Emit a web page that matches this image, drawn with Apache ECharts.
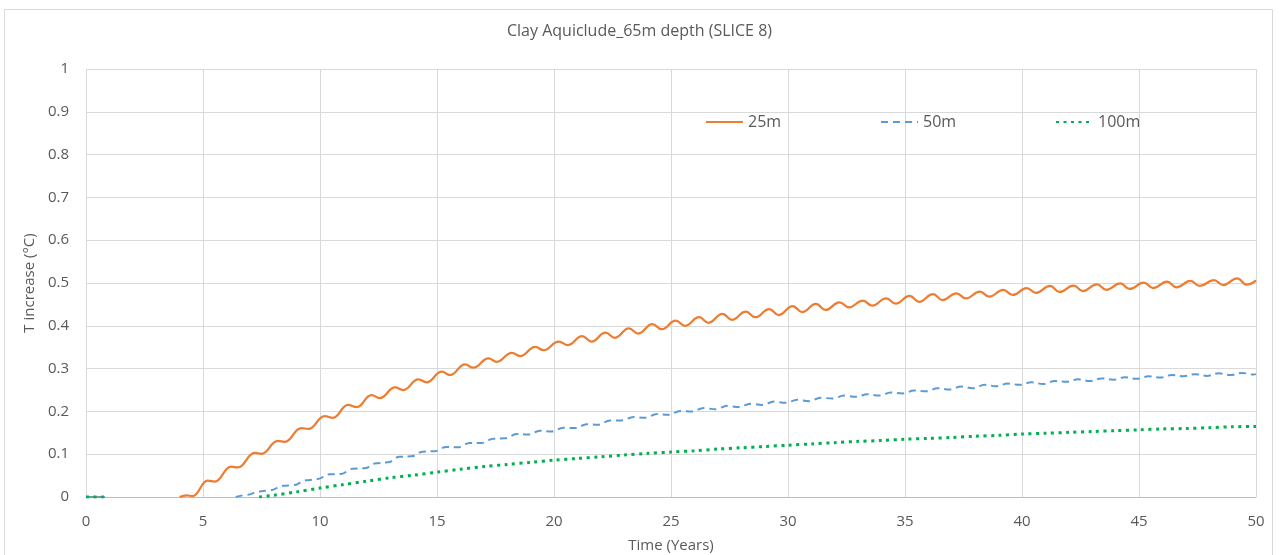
<!DOCTYPE html>
<html>
<head>
<meta charset="utf-8">
<title>Clay Aquiclude_65m depth (SLICE 8)</title>
<script src="https://cdn.jsdelivr.net/npm/echarts@6.0.0/dist/echarts.min.js"></script>
<style>
  html, body { margin: 0; padding: 0; background: #ffffff; }
  #chart { width: 1279px; height: 555px; }
</style>
</head>
<body>
<div id="chart"></div>
<script>
// Temperature increase (°C) against time (years) at three distances.
const chartTitle = 'Clay Aquiclude_65m depth (SLICE 8)';
const xAxisName = 'Time (Years)';
const yAxisName = 'T increase (\u00B0C)';
const seriesNames = ['25m', '50m', '100m'];

// 25m: annual peaks and troughs of the seasonal ripple
const dist25m = [
  [0, 0], [0.8, 0], [2, null],
  [4.0, 0], [4.3, 0.004], [4.55, 0.002], [5.2, 0.038], [5.5, 0.036],
  [6.2, 0.071], [6.5, 0.069], [7.2, 0.103], [7.5, 0.101], [8.2, 0.131], [8.5, 0.129],
  [9.2, 0.161], [9.5, 0.159], [10.2, 0.189], [10.55, 0.185], [11.2, 0.215], [11.57, 0.210],
  [12.2, 0.238], [12.56, 0.231], [13.2, 0.256], [13.56, 0.250], [14.2, 0.275], [14.56, 0.268],
  [15.2, 0.293], [15.56, 0.285], [16.2, 0.310], [16.55, 0.302], [17.2, 0.324], [17.55, 0.316],
  [18.2, 0.337], [18.55, 0.329], [19.2, 0.351], [19.55, 0.343], [20.2, 0.363], [20.6, 0.355],
  [21.2, 0.376], [21.6, 0.363], [22.2, 0.384], [22.6, 0.372], [23.2, 0.394], [23.6, 0.382],
  [24.2, 0.404], [24.6, 0.392], [25.2, 0.412], [25.6, 0.400], [26.2, 0.420], [26.6, 0.407],
  [27.2, 0.428], [27.6, 0.414], [28.2, 0.433], [28.6, 0.420], [29.2, 0.439], [29.6, 0.425],
  [30.2, 0.446], [30.6, 0.432], [31.2, 0.451], [31.6, 0.437], [32.2, 0.455], [32.6, 0.443],
  [33.2, 0.459], [33.6, 0.447], [34.2, 0.464], [34.6, 0.452], [35.2, 0.470], [35.6, 0.456],
  [36.2, 0.474], [36.6, 0.460], [37.2, 0.476], [37.6, 0.464], [38.2, 0.480], [38.6, 0.468],
  [39.2, 0.484], [39.6, 0.472], [40.2, 0.488], [40.6, 0.477], [41.2, 0.493], [41.6, 0.479],
  [42.2, 0.494], [42.6, 0.481], [43.2, 0.497], [43.6, 0.484], [44.2, 0.499], [44.6, 0.486],
  [45.2, 0.501], [45.6, 0.488], [46.2, 0.503], [46.6, 0.490], [47.2, 0.505], [47.6, 0.493],
  [48.2, 0.507], [48.6, 0.495], [49.2, 0.511], [49.6, 0.496], [50, 0.506]
];

// 50m
const dist50m = [
  [0, 0], [0.8, 0], [2, null],
  [6.4, 0], [6.9, 0.005], [7.4, 0.013], [7.9, 0.016], [8.4, 0.026], [8.9, 0.028],
  [9.4, 0.039], [9.9, 0.042], [10.4, 0.053], [10.9, 0.054], [11.4, 0.066], [11.9, 0.067],
  [12.4, 0.079], [12.9, 0.081], [13.4, 0.094], [13.9, 0.095], [14.4, 0.106], [14.9, 0.107],
  [15.4, 0.117], [15.9, 0.116], [16.4, 0.126], [16.9, 0.126], [17.4, 0.136], [17.9, 0.137],
  [18.4, 0.147], [18.9, 0.146], [19.4, 0.155], [19.9, 0.153], [20.4, 0.162], [20.9, 0.161],
  [21.4, 0.170], [21.9, 0.169], [22.4, 0.179], [22.9, 0.179], [23.4, 0.187], [23.9, 0.185],
  [24.4, 0.194], [24.9, 0.192], [25.4, 0.201], [25.9, 0.200], [26.4, 0.208], [26.9, 0.205],
  [27.4, 0.213], [27.9, 0.210], [28.4, 0.218], [28.9, 0.215], [29.4, 0.223], [29.9, 0.220],
  [30.4, 0.227], [30.9, 0.224], [31.4, 0.232], [31.9, 0.230], [32.4, 0.237], [32.9, 0.234],
  [33.4, 0.240], [33.9, 0.237], [34.4, 0.244], [34.9, 0.242], [35.4, 0.249], [35.9, 0.247],
  [36.4, 0.254], [36.9, 0.251], [37.4, 0.258], [37.9, 0.254], [38.4, 0.262], [38.9, 0.259],
  [39.4, 0.265], [39.9, 0.262], [40.4, 0.268], [40.9, 0.264], [41.4, 0.271], [41.9, 0.269],
  [42.4, 0.275], [42.9, 0.271], [43.4, 0.277], [43.9, 0.274], [44.4, 0.280], [44.9, 0.276],
  [45.4, 0.282], [45.9, 0.279], [46.4, 0.285], [46.9, 0.282], [47.4, 0.287], [47.9, 0.283],
  [48.4, 0.289], [48.9, 0.285], [49.4, 0.290], [49.9, 0.286], [50, 0.287]
];

// 100m
const dist100m = [
  [0, 0], [0.8, 0], [2, null],
  [7.4, 0], [8, 0.004], [9, 0.012], [10, 0.021], [11, 0.029], [12, 0.037], [13, 0.045],
  [14, 0.051], [15, 0.058], [16, 0.065], [17, 0.071], [18, 0.076], [19, 0.081], [20, 0.086],
  [21, 0.090], [22, 0.094], [23, 0.098], [24, 0.102], [25, 0.105], [26, 0.108], [27, 0.112],
  [28, 0.115], [29, 0.118], [30, 0.121], [31, 0.124], [32, 0.127], [33, 0.130], [34, 0.132],
  [35, 0.135], [36, 0.137], [37, 0.139], [38, 0.142], [39, 0.144], [40, 0.147], [41, 0.149],
  [42, 0.151], [43, 0.153], [44, 0.155], [45, 0.157], [46, 0.159], [47, 0.160], [48, 0.162],
  [49, 0.164], [50, 0.165]
];

const textColor = '#595959';
const gridColor = '#d9d9d9';
const fontFamily = '"Open Sans", "Noto Sans", sans-serif';

const chart = echarts.init(document.getElementById('chart'), null, { renderer: 'canvas' });

// one legend box per series so each entry sits at its own spot
function legendAt(name, left) {
  return {
    data: [name],
    left: left,
    top: 109,
    padding: 5,
    itemWidth: 37,
    itemHeight: 14,
    selectedMode: false,
    itemStyle: { opacity: 0 },
    textStyle: { color: textColor, fontSize: 16, fontFamily: fontFamily }
  };
}

chart.setOption({
  backgroundColor: '#ffffff',
  animation: false,
  title: {
    text: chartTitle,
    left: 'center',
    top: 18,
    textStyle: { color: textColor, fontSize: 16, fontWeight: 'normal', fontFamily: fontFamily }
  },
  graphic: [{
    type: 'rect',
    shape: { x: 4.5, y: 9.5, width: 1268, height: 560 },
    style: { fill: 'none', stroke: gridColor, lineWidth: 1 },
    silent: true,
    z: -1
  }],
  legend: [
    legendAt(seriesNames[0], 700),
    legendAt(seriesNames[1], 875),
    legendAt(seriesNames[2], 1050)
  ],
  grid: {
    left: 86, right: 23, top: 69, bottom: 58,
    containLabel: false,
    outerBoundsMode: 'none'
  },
  xAxis: {
    type: 'value',
    min: 0, max: 50, interval: 5,
    name: xAxisName,
    nameLocation: 'middle',
    nameGap: 41,
    nameTextStyle: { color: textColor, fontSize: 15, fontFamily: fontFamily },
    axisLine: { show: true, onZero: false, lineStyle: { color: '#bfbfbf', width: 1 } },
    axisTick: { show: false },
    axisLabel: { color: textColor, fontSize: 15, fontFamily: fontFamily, margin: 17 },
    splitLine: { show: true, lineStyle: { color: gridColor, width: 1 } }
  },
  yAxis: {
    type: 'value',
    min: 0, max: 1, interval: 0.1,
    name: yAxisName,
    nameLocation: 'middle',
    nameGap: 49,
    nameRotate: 90,
    nameTextStyle: { color: textColor, fontSize: 15, fontFamily: fontFamily },
    axisLine: { show: false },
    axisTick: { show: false },
    axisLabel: { color: textColor, fontSize: 15, fontFamily: fontFamily, margin: 17 },
    splitLine: { show: true, lineStyle: { color: gridColor, width: 1 } }
  },
  series: [
    {
      name: seriesNames[0],
      type: 'line',
      data: dist25m,
      showSymbol: false,
      symbol: 'none',
      smooth: 0.45,
      smoothMonotone: 'x',
      connectNulls: false,
      lineStyle: { color: '#ED7D31', width: 2.25, type: 'solid' },
      itemStyle: { color: '#ED7D31' },
      z: 2
    },
    {
      name: seriesNames[1],
      type: 'line',
      data: dist50m,
      showSymbol: false,
      symbol: 'none',
      smooth: 0.4,
      smoothMonotone: 'x',
      connectNulls: false,
      lineStyle: { color: '#5B9BD5', width: 2, type: [7, 5] },
      itemStyle: { color: '#5B9BD5' },
      z: 3
    },
    {
      name: seriesNames[2],
      type: 'line',
      data: dist100m,
      showSymbol: false,
      symbol: 'none',
      smooth: 0.3,
      connectNulls: false,
      lineStyle: { color: '#00B050', width: 3, type: [3, 4.5] },
      itemStyle: { color: '#00B050' },
      z: 4
    }
  ]
});
</script>
</body>
</html>
